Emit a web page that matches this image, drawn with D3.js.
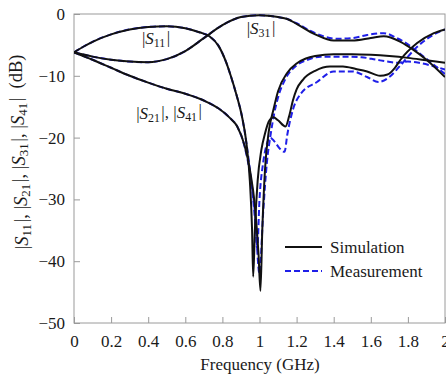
<!DOCTYPE html>
<html>
<head>
<meta charset="utf-8">
<script src="https://cdn.jsdelivr.net/npm/d3@7"></script>
<style>
  body { margin: 0; background: #fff; }
  svg text { font-family: "Liberation Serif", "Times New Roman", "DejaVu Serif", serif; }
</style>
</head>
<body>
<svg id="chart"></svg>
<script>
// axis ticks
const xTicks = [0, 0.2, 0.4, 0.6, 0.8, 1, 1.2, 1.4, 1.6, 1.8, 2];
const yTicks = [0, -10, -20, -30, -40, -50];

// simulation, [GHz, dB]
const simS11 = [[0,-6.2],[0.05,-5.3],[0.1,-4.5],[0.2,-3.3],[0.3,-2.5],[0.4,-2.1],[0.5,-2.0],[0.6,-2.3],[0.68,-3.0],[0.73,-3.6],[0.78,-5.2],[0.82,-7.8],[0.845,-10],[0.875,-13],[0.905,-16.5],[0.93,-21],[0.948,-27],[0.96,-35],[0.966,-42.5],[0.975,-35],[0.99,-27],[1.01,-22],[1.03,-19.3],[1.05,-17.4],[1.075,-16.7],[1.1,-17.2],[1.14,-18.2],[1.16,-16.5],[1.18,-14],[1.2,-12.2],[1.235,-10.6],[1.3,-9.2],[1.38,-8.5],[1.45,-8.5],[1.52,-8.9],[1.58,-9.3],[1.65,-10.0],[1.69,-9.8],[1.73,-8.7],[1.76,-7.4],[1.85,-4.7],[1.94,-3.1],[2.0,-2.5]];
const simS21 = [[0,-6.2],[0.1,-7.4],[0.2,-8.7],[0.3,-10.0],[0.4,-11.1],[0.5,-12.1],[0.6,-12.9],[0.7,-14.0],[0.78,-15.3],[0.84,-16.8],[0.88,-18.2],[0.92,-21.3],[0.95,-25.5],[0.975,-31],[0.995,-39],[1.005,-44.8],[1.015,-35],[1.03,-25],[1.05,-19],[1.075,-15.5],[1.1,-12.5],[1.15,-9.5],[1.2,-8.0],[1.25,-7.2],[1.3,-6.8],[1.4,-6.5],[1.5,-6.5],[1.6,-6.6],[1.7,-6.8],[1.8,-7.1],[1.9,-7.5],[2.0,-7.9]];
const simS31 = [[0,-6.2],[0.1,-6.9],[0.2,-7.4],[0.3,-7.7],[0.4,-7.8],[0.5,-7.3],[0.6,-6.0],[0.7,-3.9],[0.8,-1.8],[0.9,-0.5],[1.0,-0.2],[1.1,-0.5],[1.15,-0.8],[1.2,-1.6],[1.3,-3.3],[1.4,-4.3],[1.5,-4.3],[1.6,-3.9],[1.67,-3.6],[1.76,-4.5],[1.83,-5.8],[1.9,-7.4],[2.0,-10.2]];

// measurement, [GHz, dB]
const measS11 = [[0,-6.2],[0.05,-5.3],[0.1,-4.5],[0.2,-3.3],[0.3,-2.5],[0.4,-2.1],[0.5,-2.0],[0.6,-2.3],[0.68,-3.0],[0.73,-3.6],[0.78,-5.2],[0.82,-7.8],[0.845,-10],[0.875,-13],[0.905,-16.5],[0.93,-21],[0.955,-27],[0.975,-33],[0.988,-38],[1.0,-30],[1.02,-24],[1.04,-21],[1.057,-20],[1.08,-20.6],[1.11,-21.8],[1.135,-22.3],[1.15,-19.5],[1.18,-15.5],[1.22,-13],[1.31,-11.0],[1.4,-9.3],[1.5,-9.3],[1.58,-10.2],[1.64,-11.0],[1.7,-10.2],[1.76,-8.3],[1.85,-5.3],[1.93,-3.5],[2.0,-2.5]];
const measS21 = [[0,-6.2],[0.1,-7.4],[0.2,-8.7],[0.3,-10.0],[0.4,-11.1],[0.5,-12.1],[0.6,-12.9],[0.7,-14.0],[0.78,-15.3],[0.84,-16.8],[0.88,-18.2],[0.92,-21.5],[0.95,-26],[0.975,-32],[1.0,-42],[1.02,-32],[1.04,-24],[1.06,-19.5],[1.08,-16],[1.1,-13.5],[1.14,-10.5],[1.2,-8.3],[1.26,-7.4],[1.33,-6.9],[1.45,-6.9],[1.55,-7.0],[1.63,-7.4],[1.69,-7.7],[1.74,-7.9],[1.8,-7.7],[1.86,-7.9],[1.92,-8.3],[2.0,-9.0]];
const measS31 = [[0,-6.2],[0.1,-6.9],[0.2,-7.4],[0.3,-7.7],[0.4,-7.8],[0.5,-7.3],[0.6,-6.0],[0.7,-3.9],[0.8,-1.8],[0.9,-0.5],[1.0,-0.2],[1.1,-0.5],[1.15,-0.8],[1.2,-1.5],[1.3,-3.1],[1.42,-4.0],[1.5,-3.9],[1.58,-3.4],[1.67,-3.1],[1.74,-3.9],[1.8,-4.9],[1.86,-6.3],[1.93,-8.0],[2.0,-9.7]];

const width = 446, height = 375;
const margin = { top: 14, right: 1, bottom: 52, left: 74 };
const w = width - margin.left - margin.right;
const h = height - margin.top - margin.bottom;
const font = '"Liberation Serif", "Times New Roman", "DejaVu Serif", serif';
const ink = "#1a1a1a";

const svg = d3.select("#chart").attr("width", width).attr("height", height)
  .attr("font-family", font);
const g = svg.append("g").attr("transform", `translate(${margin.left},${margin.top})`);

const x = d3.scaleLinear().domain([0, 2]).range([0, w]);
const y = d3.scaleLinear().domain([-50, 0]).range([h, 0]);

g.append("defs").append("clipPath").attr("id", "clip")
  .append("rect").attr("width", w).attr("height", h);

// frame
g.append("rect")
  .attr("width", w).attr("height", h)
  .attr("fill", "none").attr("stroke", "#9a9a9a").attr("stroke-width", 1);

// axes with inward ticks
const xAxis = g.append("g").attr("transform", `translate(0,${h})`)
  .call(d3.axisBottom(x).tickValues(xTicks).tickSizeInner(-6).tickSizeOuter(0).tickPadding(12)
    .tickFormat(d => String(+d.toFixed(1))));
const yAxis = g.append("g")
  .call(d3.axisLeft(y).tickValues(yTicks).tickSizeInner(-6).tickSizeOuter(0).tickPadding(9));

[xAxis, yAxis].forEach(a => {
  a.attr("font-family", font).attr("font-size", 17);
  a.select(".domain").remove();
  a.selectAll("line").attr("stroke", "#9a9a9a");
  a.selectAll("text").attr("fill", ink);
});

const line = d3.line()
  .x(d => x(d[0]))
  .y(d => y(d[1]))
  .curve(d3.curveMonotoneX);

const plot = g.append("g").attr("clip-path", "url(#clip)");

[measS11, measS21, measS31].forEach(s => {
  plot.append("path").datum(s)
    .attr("d", line)
    .attr("fill", "none")
    .attr("stroke", "#1f1fe8")
    .attr("stroke-width", 2)
    .attr("stroke-dasharray", "6,3");
});

[simS11, simS21, simS31].forEach(s => {
  plot.append("path").datum(s)
    .attr("d", line)
    .attr("fill", "none")
    .attr("stroke", "#111")
    .attr("stroke-width", 2);
});

// |S_ij| labels
function sLabel(sel, parts) {
  parts.forEach(p => {
    if (p.t) sel.append("tspan").text(p.t);
    if (p.s) {
      sel.append("tspan").attr("font-style", "italic").text("S");
      sel.append("tspan").attr("font-size", "0.7em").attr("dy", "0.25em").text(p.s);
      sel.append("tspan").attr("dy", "-0.25em").text("\u200a");
    }
  });
}

function plainText(px, py) {
  return svg.append("text").attr("x", px).attr("y", py)
    .attr("text-anchor", "middle").attr("font-size", 17).attr("fill", ink);
}

sLabel(plainText(156, 44), [{ t: "|" }, { s: "11" }, { t: "|" }]);
sLabel(plainText(261, 34), [{ t: "|" }, { s: "31" }, { t: "|" }]);
sLabel(plainText(169, 119), [{ t: "|" }, { s: "21" }, { t: "|, |" }, { s: "41" }, { t: "|" }]);

// axis titles
plainText(260, 370).text("Frequency (GHz)");

const yt = svg.append("text")
  .attr("transform", `translate(28,152) rotate(-90)`)
  .attr("text-anchor", "middle").attr("font-size", 18.5).attr("fill", ink)
  .attr("xml:space", "preserve");
sLabel(yt, [{ t: "|" }, { s: "11" }, { t: "|, |" }, { s: "21" }, { t: "|, |" }, { s: "31" }, { t: "|, |" }, { s: "41" }, { t: "|  (dB)" }]);

// legend
const legendItems = [
  { name: "Simulation", color: "#111", dash: null },
  { name: "Measurement", color: "#1f1fe8", dash: "6,3" },
];
const legend = svg.append("g").attr("transform", "translate(285,247)");
legendItems.forEach((d, i) => {
  const row = legend.append("g").attr("transform", `translate(0,${i * 24})`);
  row.append("line").attr("x1", 0).attr("x2", 37).attr("y1", 0).attr("y2", 0)
    .attr("stroke", d.color).attr("stroke-width", 2)
    .attr("stroke-dasharray", d.dash);
  row.append("text").attr("x", 45).attr("y", 6).attr("font-size", 17).attr("fill", ink).text(d.name);
});
</script>
</body>
</html>
